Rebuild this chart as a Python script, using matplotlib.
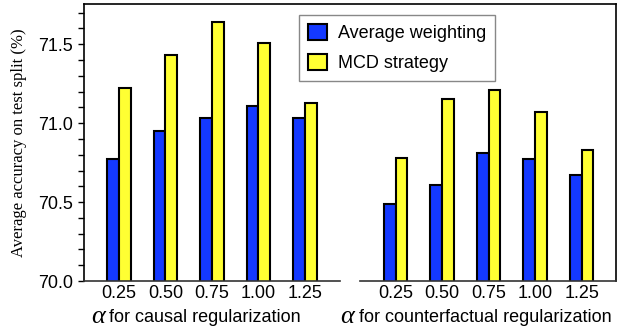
import matplotlib
matplotlib.use("Agg")
import matplotlib.pyplot as plt
import numpy as np
from matplotlib.ticker import MultipleLocator

alpha_labels = ["0.25", "0.50", "0.75", "1.00", "1.25"]
causal_avg = [70.77, 70.95, 71.03, 71.11, 71.03]
causal_mcd = [71.22, 71.43, 71.64, 71.51, 71.13]
cf_avg = [70.49, 70.61, 70.81, 70.77, 70.67]
cf_mcd = [70.78, 71.15, 71.21, 71.07, 70.83]
series_names = ["Average weighting", "MCD strategy"]

plt.rcParams['font.family'] = ['Liberation Sans', 'DejaVu Sans']
plt.rcParams['mathtext.fontset'] = 'stix'

BLUE = '#1439FF'
YELLOW = '#FFFF33'

fig = plt.figure(figsize=(6.24, 3.28), dpi=100)
W, H = 624, 328
ax = fig.add_axes([84 / W, 1 - 281 / H, (616 - 84) / W, (281 - 4) / H])

n = len(alpha_labels)
left_x = np.arange(n)
right_x = np.arange(n) + n + 0.95
bw = 0.25
kw = dict(width=bw, edgecolor='black', linewidth=1.5, zorder=3)
b1 = ax.bar(left_x - bw / 2, causal_avg, color=BLUE, **kw)
b2 = ax.bar(left_x + bw / 2, causal_mcd, color=YELLOW, **kw)
ax.bar(right_x - bw / 2, cf_avg, color=BLUE, **kw)
ax.bar(right_x + bw / 2, cf_mcd, color=YELLOW, **kw)

ax.set_xlim(-0.753, 10.69)
ax.set_ylim(70.0, 71.755)
ax.set_xticks(list(left_x) + list(right_x))
ax.set_xticklabels(alpha_labels + alpha_labels, fontsize=13)
ax.tick_params(axis='x', length=0, pad=3)
ax.yaxis.set_major_locator(MultipleLocator(0.5))
ax.yaxis.set_minor_locator(MultipleLocator(0.1))
ax.yaxis.set_major_formatter(matplotlib.ticker.FormatStrFormatter('%.1f'))
ax.tick_params(axis='y', which='both', direction='out', length=4, width=1, labelsize=13, pad=4)

for s in ['left', 'top', 'right']:
    ax.spines[s].set_linewidth(1.2)
ax.spines['bottom'].set_visible(False)
ax.plot([-0.753, 4.75], [70.0, 70.0], color='#333333', lw=1.2, clip_on=False, zorder=4)
ax.plot([5.18, 10.69], [70.0, 70.0], color='#333333', lw=1.2, clip_on=False, zorder=4)

ax.set_ylabel("Average accuracy on test split (%)", fontsize=12,
              family=['Liberation Serif', 'DejaVu Serif'], labelpad=8)

ylab = 1 - 317 / H
serif_it = dict(family=['Liberation Serif', 'DejaVu Serif'], style='italic')
fig.text(105 / W, ylab, "α", fontsize=19, ha='right', va='center', **serif_it)
fig.text(109 / W, ylab, "for causal regularization", fontsize=13, ha='left', va='center')
fig.text(354 / W, ylab, "α", fontsize=19, ha='right', va='center', **serif_it)
fig.text(359 / W, ylab, "for counterfactual regularization", fontsize=13, ha='left', va='center')

leg = fig.legend([b1, b2], series_names, loc='upper left',
                 bbox_to_anchor=(299 / W, 1 - 15 / H), borderaxespad=0,
                 fontsize=13, frameon=True, fancybox=False, framealpha=1,
                 edgecolor='#888888', handlelength=1.05, handleheight=1.0,
                 handletextpad=0.6, labelspacing=0.65, borderpad=0.5)
leg.get_frame().set_linewidth(1.0)

fig.savefig("out.png", dpi=100)
